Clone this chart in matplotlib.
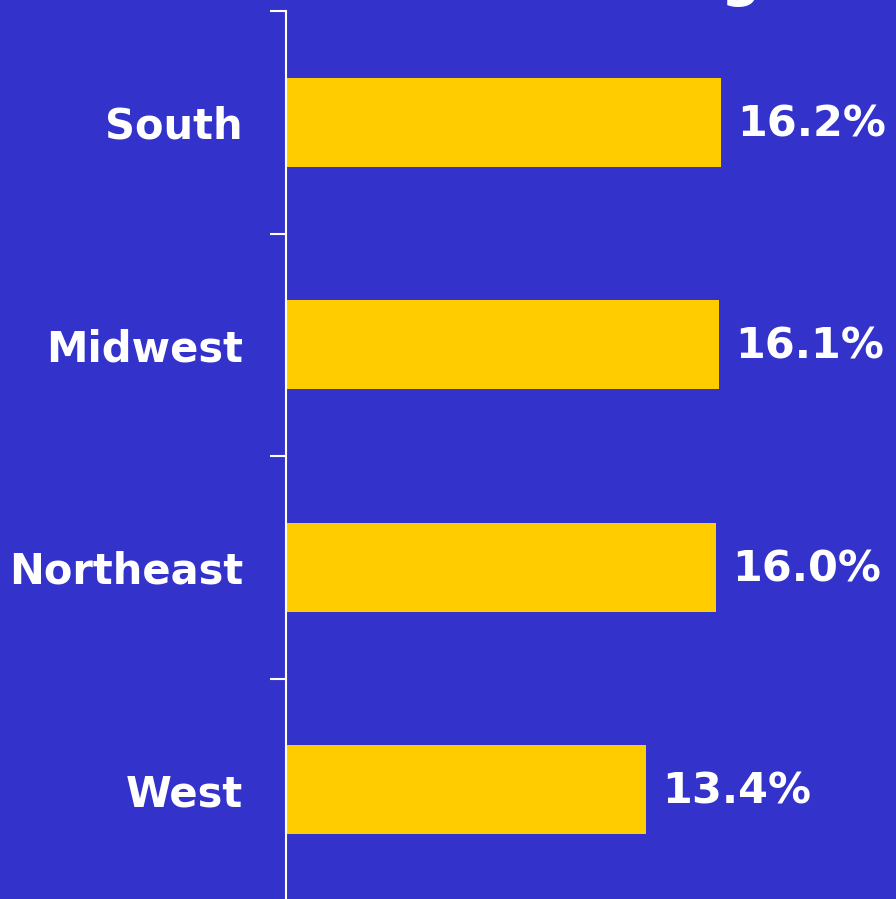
import matplotlib.pyplot as plt
import numpy as np

# data
regions = ["South", "Midwest", "Northeast", "West"]
rates = [16.2, 16.1, 16.0, 13.4]

bg = "#3333CC"
bar_color = "#FFCC00"

fig = plt.figure(figsize=(8.96, 8.99), dpi=100, facecolor=bg)
# axes from x=286px to right edge, y=11px from top down to just below the bottom edge
ax = fig.add_axes([286 / 896, -2 / 899, 1 - 286 / 896, (899 - 11 + 2) / 899])
ax.set_facecolor(bg)

y = np.arange(len(regions))[::-1]
ax.barh(y, rates, height=0.4, color=bar_color)

ax.set_xlim(0, (896 - 286) / 26.88)
ax.set_ylim(-0.5, len(regions) - 0.5)

for yi, v in zip(y, rates):
    ax.annotate(f"{v:.1f}%", (v, yi), xytext=(11.5, -1.5), textcoords="offset points",
                va="center", ha="left", color="white", fontsize=31, fontweight="bold")

ax.set_yticks(y)
ax.set_yticklabels(regions, fontsize=30, fontweight="bold", color="white")
ax.tick_params(axis="y", which="major", length=0, pad=31)
ax.set_yticks(np.arange(-0.5, len(regions)), minor=True)
ax.tick_params(axis="y", which="minor", length=11.5, width=1.5, color="white")
ax.set_xticks([])

for s in ["top", "right", "bottom"]:
    ax.spines[s].set_visible(False)
ax.spines["left"].set_color("white")
ax.spines["left"].set_linewidth(1.5)

# title sits above the crop; only the descender of a "g" shows
fig.text(740 / 896, 1 + 5 / 899, "g", ha="center", va="baseline",
         color="white", fontsize=40, fontweight="bold")

fig.savefig("out.png", dpi=100, facecolor=bg)
